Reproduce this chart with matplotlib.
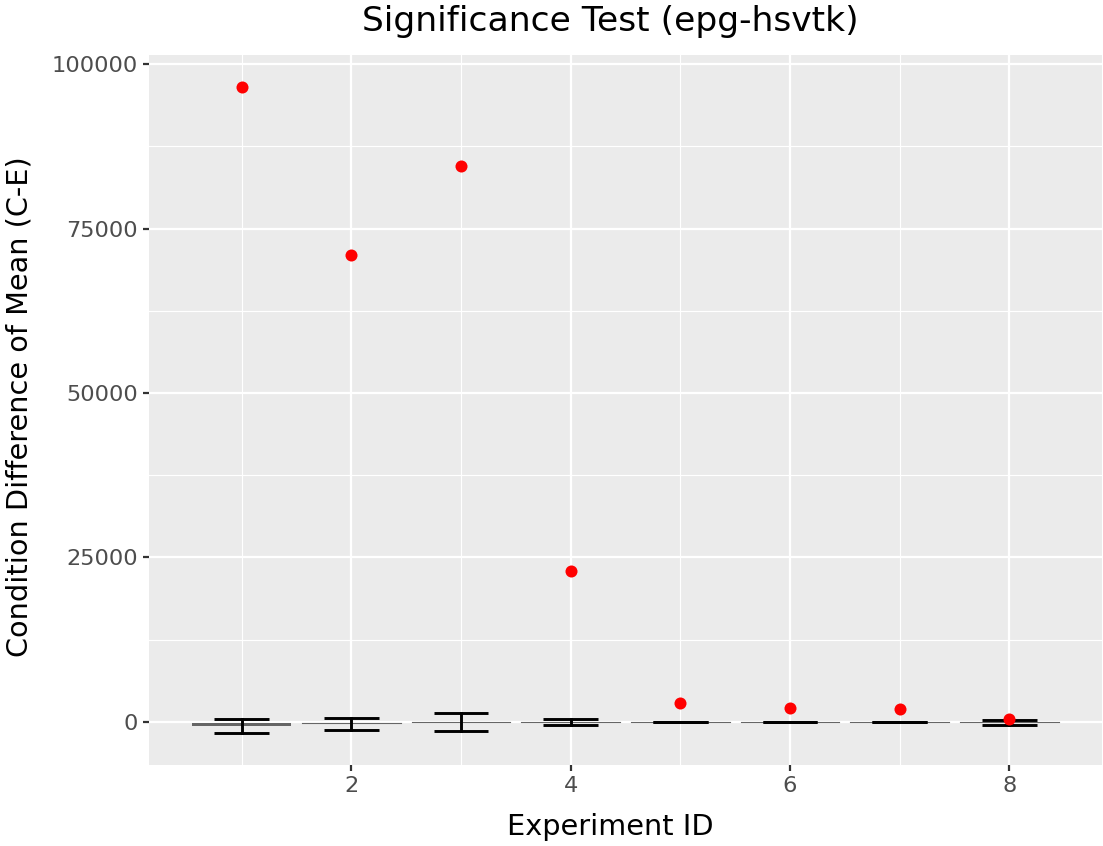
import matplotlib
matplotlib.use("Agg")
import matplotlib.pyplot as plt
import numpy as np

exp_ids = [1, 2, 3, 4, 5, 6, 7, 8]
point_vals = [96500, 70950, 84500, 22950, 2900, 2150, 2000, 500]
err_low = [-1670, -1220, -1410, -500, -60, -60, -60, -400]
err_high = [410, 650, 1410, 500, 60, 60, 60, 350]
box_low = [-550, -200, -50, -30, -30, -30, -30, -30]
box_high = [-150, -200, -50, -30, -30, -30, -30, -30]

W, H = 1103, 846
fig = plt.figure(figsize=(W / 100, H / 100), dpi=100)
ax = fig.add_axes([149/W, 1-765/H, (1102-149)/W, (765-55)/H])
ax.set_facecolor("#EBEBEB")
for s in ax.spines.values():
    s.set_visible(False)

ax.set_xlim(0.155, 8.845)
ax.set_ylim(-6550, 101380)

# grid
for yv in [12500, 37500, 62500, 87500]:
    ax.axhline(yv, color="white", lw=0.8, zorder=0)
for yv in [0, 25000, 50000, 75000, 100000]:
    ax.axhline(yv, color="white", lw=1.6, zorder=0)
for xv in [1, 3, 5, 7]:
    ax.axvline(xv, color="white", lw=0.8, zorder=0)
for xv in [2, 4, 6, 8]:
    ax.axvline(xv, color="white", lw=1.6, zorder=0)

# crossbar-like boxes
for x, lo, hi in zip(exp_ids, box_low, box_high):
    if hi - lo > 0:
        ax.fill_between([x - 0.45, x + 0.45], lo, hi, color="#666666", lw=0, zorder=2)
    else:
        ax.plot([x - 0.45, x + 0.45], [lo, lo], color="#666666", lw=0.8, zorder=2)

# error bars
for x, lo, hi in zip(exp_ids, err_low, err_high):
    ax.plot([x - 0.25, x + 0.25], [lo, lo], color="black", lw=2.1, zorder=3, solid_capstyle="butt")
    ax.plot([x - 0.25, x + 0.25], [hi, hi], color="black", lw=2.1, zorder=3, solid_capstyle="butt")
    ax.plot([x, x], [lo, hi], color="black", lw=2.1, zorder=3)

ax.scatter(exp_ids, point_vals, s=75, color="red", zorder=4, linewidths=0)

ax.set_xticks([2, 4, 6, 8])
ax.set_yticks([0, 25000, 50000, 75000, 100000])
ax.set_yticklabels(["0", "25000", "50000", "75000", "100000"])
ax.tick_params(axis="both", colors="#333333", labelcolor="#4D4D4D", labelsize=16.2,
               length=4, width=1.6, pad=4)

fig.text(610/W, 1-827/H, "Experiment ID", fontsize=20.7, color="black",
         ha="center", va="center")
fig.text(20/W, 1-407/H, "Condition Difference of Mean (C-E)", fontsize=20.7,
         color="black", ha="center", va="center", rotation=90)
fig.text(610/W, 1-22/H, "Significance Test (epg-hsvtk)", fontsize=24.8,
         color="black", ha="center", va="center")

fig.savefig("out.png", dpi=100)
